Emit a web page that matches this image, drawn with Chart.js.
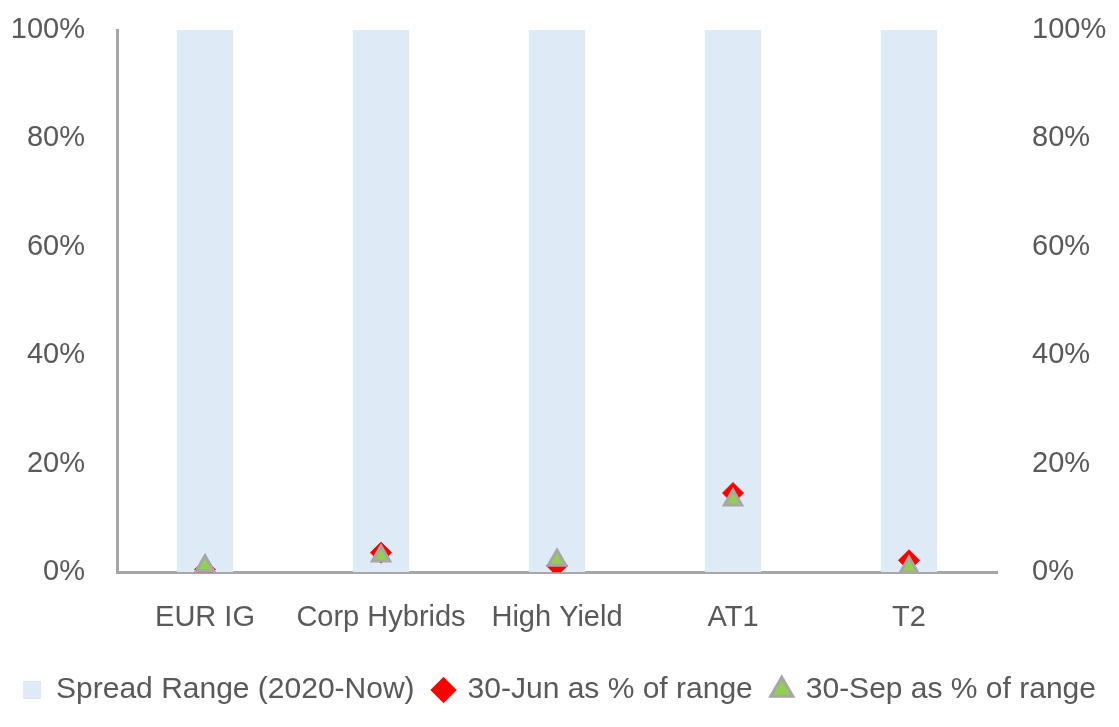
<!DOCTYPE html>
<html>
<head>
<meta charset="utf-8">
<script src="https://cdn.jsdelivr.net/npm/chart.js@4/dist/chart.umd.min.js"></script>
<style>
    html,body{margin:0;padding:0;background:#fff;}
    #wrap{width:1119px;height:727px;}
</style>
</head>
<body>
<div id="wrap"><canvas id="dataChart"></canvas></div>
<script>
const categories = ["EUR IG", "Corp Hybrids", "High Yield", "AT1", "T2"];
const rangeLow = [0, 0, 0, 0, 0];
const rangeHigh = [100, 100, 100, 100, 100];
const jun30 = [0.5, 3.6, 1.2, 14.6, 2.2];
const sep30 = [1.2, 3.0, 2.2, 13.3, 0.9];
const yTicks = [0, 20, 40, 60, 80, 100];

const textColor = "#595959";
const axisColor = "#a6a6a6";
const fontFamily = "'Liberation Sans', Arial, sans-serif";

// fixed side widths so the plot sits where it does in the original
function fixAxis(width){
    return (axis) => {
        axis.width = width;
        axis.paddingTop = 0;
        axis.paddingBottom = 0;
    };
}

let ctx = document.getElementById("dataChart").getContext("2d");
let chart = new Chart(ctx, {
    type: "bar",
    data: {
        labels: categories,
        datasets: [
            {
                label: "Spread Range (2020-Now)",
                data: rangeLow.map((lo, i) => [lo, rangeHigh[i]]),
                backgroundColor: "#deeaf6",
                borderWidth: 0,
                barPercentage: 0.64,
                categoryPercentage: 0.5,
                pointStyle: "rect",
                order: 3
            },
            {
                type: "line",
                label: "30-Jun as % of range",
                data: jun30,
                showLine: false,
                pointStyle: "rectRot",
                pointRadius: 10.5,
                pointBackgroundColor: "#ff0000",
                pointBorderColor: "#ff0000",
                pointBorderWidth: 1,
                backgroundColor: "#ff0000",
                borderColor: "#ff0000",
                order: 2
            },
            {
                type: "line",
                label: "30-Sep as % of range",
                data: sep30,
                showLine: false,
                pointStyle: "triangle",
                pointRadius: 10,
                pointBackgroundColor: "#92d050",
                pointBorderColor: "#a6a6a6",
                pointBorderWidth: 3,
                backgroundColor: "#92d050",
                borderColor: "#a6a6a6",
                order: 1
            }
        ]
    },
    options: {
        responsive: true,
        maintainAspectRatio: false,
        animation: false,
        layout: { padding: { top: 30, left: 0, right: 0, bottom: 12 } },
        scales: {
            x: {
                afterFit: (axis) => { axis.height -= 8; },
                grid: { display: false, drawTicks: false },
                border: { display: true, color: axisColor, width: 3 },
                ticks: {
                    color: textColor,
                    font: { family: fontFamily, size: 29 },
                    padding: 28,
                    maxRotation: 0,
                    minRotation: 0,
                    autoSkip: false
                }
            },
            y: {
                position: "left",
                min: 0,
                max: 100,
                afterBuildTicks: (axis) => { axis.ticks = yTicks.map(v => ({ value: v })); },
                afterFit: fixAxis(117),
                grid: { display: false, drawTicks: false },
                border: { display: true, color: axisColor, width: 3 },
                ticks: {
                    color: textColor,
                    font: { family: fontFamily, size: 29 },
                    padding: 32,
                    callback: (v) => v + "%"
                }
            },
            y2: {
                position: "right",
                min: 0,
                max: 100,
                afterBuildTicks: (axis) => { axis.ticks = yTicks.map(v => ({ value: v })); },
                afterFit: fixAxis(122),
                grid: { display: false, drawTicks: false },
                border: { display: false },
                ticks: {
                    color: textColor,
                    font: { family: fontFamily, size: 29 },
                    padding: 35,
                    callback: (v) => v + "%"
                }
            }
        },
        plugins: {
            legend: {
                position: "bottom",
                labels: {
                    color: textColor,
                    font: { family: fontFamily, size: 30 },
                    usePointStyle: true,
                    boxWidth: 18,
                    boxHeight: 18,
                    padding: 20,
                    sort: (a, b) => a.datasetIndex - b.datasetIndex
                }
            },
            tooltip: { enabled: false }
        }
    }
});
</script>
</body>
</html>
